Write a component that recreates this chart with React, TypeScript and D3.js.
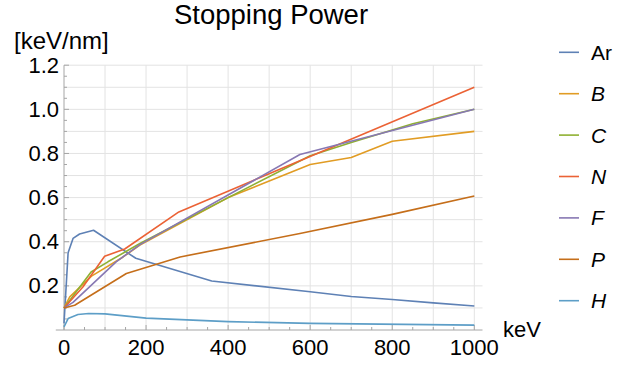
import React from "react";
import * as d3 from "d3";

// Curvas de poder de frenado (keV, keV/nm)
const names = ["Ar", "B", "C", "N", "F", "P", "H"];
const colors = ["#5E81B5", "#E19C24", "#8FB032", "#EB6235", "#8778B3", "#C56E1A", "#5D9EC7"];

const arPts: [number, number][] = [
  [0, 0.03], [10, 0.35], [22, 0.415], [38, 0.435], [72, 0.452], [175, 0.325],
  [360, 0.222], [600, 0.173], [700, 0.152], [800, 0.138], [900, 0.123], [1000, 0.109],
];
const bPts: [number, number][] = [
  [0, 0.1], [14, 0.15], [67, 0.244], [144, 0.331], [185, 0.385], [400, 0.6],
  [600, 0.75], [700, 0.782], [800, 0.855], [1000, 0.9],
];
const cPts: [number, number][] = [
  [0, 0.1], [66, 0.263], [107, 0.309], [185, 0.392], [400, 0.6], [600, 0.79],
  [700, 0.85], [850, 0.935], [1000, 1.0],
];
const nPts: [number, number][] = [
  [0, 0.1], [46, 0.195], [99, 0.334], [148, 0.367], [280, 0.535], [1000, 1.1],
];
const fPts: [number, number][] = [
  [0, 0.1], [22, 0.125], [127, 0.309], [185, 0.387], [575, 0.795], [1000, 1.0],
];
const pPts: [number, number][] = [
  [0, 0.1], [26, 0.112], [152, 0.256], [283, 0.331], [575, 0.437], [800, 0.524], [1000, 0.607],
];
const hPts: [number, number][] = [
  [0, 0.014], [10, 0.052], [34, 0.07], [60, 0.075], [100, 0.073], [200, 0.054],
  [400, 0.038], [600, 0.03], [1000, 0.022],
];
const allSeries = [arPts, bPts, cPts, nPts, fPts, pPts, hPts];

const xTickLabels = [0, 200, 400, 600, 800, 1000];
const yTickLabels = [0.2, 0.4, 0.6, 0.8, 1.0, 1.2];

const W = 630;
const H = 365;
const font = "'Liberation Sans', Arial, sans-serif";

export default function App() {
  const x = d3.scaleLinear().domain([0, 1000]).range([64, 474.3]);
  const y = d3.scaleLinear().domain([0, 1.2]).range([330, 65.2]);
  const line = d3
    .line<[number, number]>()
    .x((d) => x(d[0]))
    .y((d) => y(d[1]));

  const xGrid = d3.range(100, 1001, 100);
  const yGrid = d3.range(1, 13).map((i) => i / 10);
  const xMinor = d3.range(0, 1001, 50).filter((v) => v % 200 !== 0);
  const yMinor = d3.range(1, 25).map((i) => i * 0.05).filter((v) => Math.abs(v / 0.2 - Math.round(v / 0.2)) > 1e-6);

  const axisColor = "#a6a6a6";
  const gridColor = "#e3e3e3";

  return (
    <svg
      width={W}
      height={H}
      style={{ position: "absolute", left: 0, top: 0, background: "#fff" }}
      fontFamily={font}
    >
      {/* Título */}
      <text x={271} y={24} textAnchor="middle" fontSize={27.5} fill="#000">
        Stopping Power
      </text>
      <text x={14} y={49} fontSize={24} fill="#000">
        [keV/nm]
      </text>

      {/* Rejilla */}
      <g stroke={gridColor} strokeWidth={1}>
        {xGrid.map((v) => (
          <line key={"gx" + v} x1={x(v)} x2={x(v)} y1={y(0)} y2={y(1.2)} />
        ))}
        {yGrid.map((v) => (
          <line key={"gy" + v} x1={x(0)} x2={x(1020)} y1={y(v)} y2={y(v)} />
        ))}
      </g>

      {/* Ejes */}
      <g stroke={axisColor} strokeWidth={1}>
        <line x1={x(-20)} x2={x(1020)} y1={y(0)} y2={y(0)} />
        <line x1={x(0)} x2={x(0)} y1={y(0)} y2={y(1.2)} />
        {xTickLabels.map((v) => (
          <line key={"xt" + v} x1={x(v)} x2={x(v)} y1={y(0)} y2={y(0) - 5} />
        ))}
        {xMinor.map((v) => (
          <line key={"xm" + v} x1={x(v)} x2={x(v)} y1={y(0)} y2={y(0) - 3} />
        ))}
        {yTickLabels.map((v) => (
          <line key={"yt" + v} x1={x(0)} x2={x(0) + 5} y1={y(v)} y2={y(v)} />
        ))}
        {yMinor.map((v) => (
          <line key={"ym" + v} x1={x(0)} x2={x(0) + 3} y1={y(v)} y2={y(v)} />
        ))}
      </g>

      {/* Rótulos de ejes */}
      <g fontSize={22} fill="#000">
        {xTickLabels.map((v) => (
          <text key={"xl" + v} x={x(v)} y={355} textAnchor="middle">
            {v}
          </text>
        ))}
        {yTickLabels.map((v) => (
          <text key={"yl" + v} x={59} y={y(v)} textAnchor="end" dominantBaseline="central">
            {v.toFixed(1)}
          </text>
        ))}
        <text x={503} y={337}>
          keV
        </text>
      </g>

      {/* Curvas */}
      <g fill="none" strokeWidth={1.6} strokeLinejoin="round">
        {allSeries.map((pts, i) => (
          <path key={names[i]} d={line(pts) ?? ""} stroke={colors[i]} />
        ))}
      </g>

      {/* Leyenda */}
      <g fontSize={21} fill="#000">
        {names.map((n, i) => {
          const ly = 52.3 + i * 41.4;
          return (
            <g key={"lg" + n}>
              <line x1={559} x2={579} y1={ly} y2={ly} stroke={colors[i]} strokeWidth={1.6} />
              <text x={591} y={ly} dominantBaseline="central" fontStyle={i === 0 ? "normal" : "italic"}>
                {n}
              </text>
            </g>
          );
        })}
      </g>
    </svg>
  );
}
